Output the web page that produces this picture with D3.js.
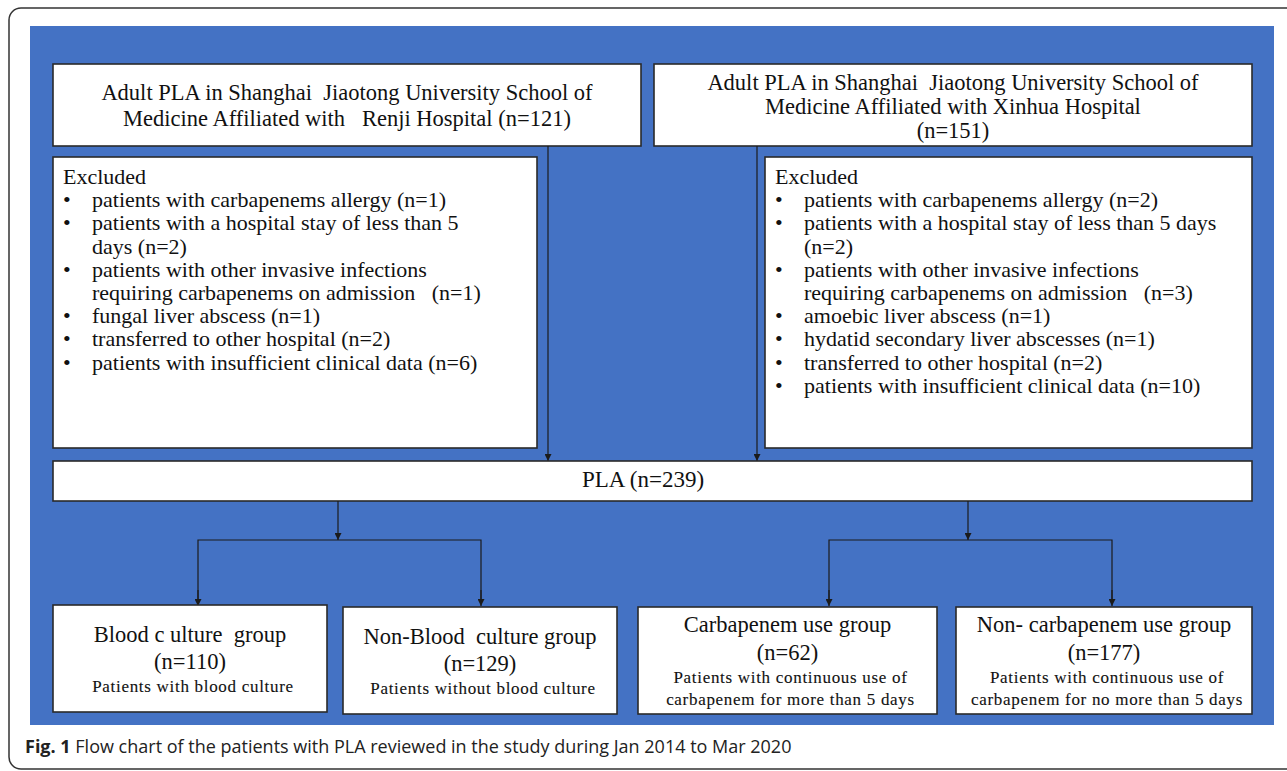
<!DOCTYPE html>
<html>
<head>
<meta charset="utf-8">
<script src="https://cdn.jsdelivr.net/npm/d3@7"></script>
<style>
  body { margin: 0; background: #ffffff; }
</style>
</head>
<body>
<div id="canvas"></div>
<script>
"use strict"

/* Flow chart data: box texts */
let sourceRenji = ["Adult PLA in Shanghai  Jiaotong University School of",
                   "Medicine Affiliated with   Renji Hospital (n=121)"];
let sourceXinhua = ["Adult PLA in Shanghai  Jiaotong University School of",
                    "Medicine Affiliated with Xinhua Hospital",
                    "(n=151)"];

let excludedTitle = "Excluded";
// "|" marks where an item wraps onto a second line
let excludedRenji = ["patients with carbapenems allergy (n=1)",
                     "patients with a hospital stay of less than 5|days (n=2)",
                     "patients with other invasive infections|requiring carbapenems on admission   (n=1)",
                     "fungal liver abscess (n=1)",
                     "transferred to other hospital (n=2)",
                     "patients with insufficient clinical data (n=6)"];
let excludedXinhua = ["patients with carbapenems allergy (n=2)",
                      "patients with a hospital stay of less than 5 days|(n=2)",
                      "patients with other invasive infections|requiring carbapenems on admission   (n=3)",
                      "amoebic liver abscess (n=1)",
                      "hydatid secondary liver abscesses (n=1)",
                      "transferred to other hospital (n=2)",
                      "patients with insufficient clinical data (n=10)"];

let totalLabel = "PLA (n=239)";

let groupTitles = ["Blood c ulture  group", "Non-Blood  culture group",
                   "Carbapenem use group", "Non- carbapenem use group"];
let groupCounts = ["(n=110)", "(n=129)", "(n=62)", "(n=177)"];
let groupNotes = [["Patients with blood culture"],
                  ["Patients without blood culture"],
                  ["Patients with continuous use of", "carbapenem for more than 5 days"],
                  ["Patients with continuous use of", "carbapenem for no more than 5 days"]];

let captionBold = "Fig. 1";
let captionText = " Flow chart of the patients with PLA reviewed in the study during Jan 2014 to Mar 2020";

/* Layout */
let svgWidth = 1287;
let svgHeight = 771;
let serif = "'Liberation Serif', 'Times New Roman', serif";
let blue = "#4472c4";
let ink = "#1b1b1b";

let svg = d3.select("#canvas")
    .append("svg")
    .attr("width", svgWidth)
    .attr("height", svgHeight);

// arrow head marker
svg.append("defs").append("marker")
    .attr("id", "arrow")
    .attr("viewBox", "0 0 10 10")
    .attr("refX", 10)
    .attr("refY", 5)
    .attr("markerWidth", 7)
    .attr("markerHeight", 7)
    .attr("markerUnits", "userSpaceOnUse")
    .attr("orient", "auto")
    .append("path")
    .attr("d", "M0,0 L10,5 L0,10 Z")
    .attr("fill", ink);

// outer frame (runs off the right edge)
svg.append("rect")
    .attr("x", 9).attr("y", 8)
    .attr("width", 1300).attr("height", 761)
    .attr("rx", 12)
    .attr("fill", "#ffffff")
    .attr("stroke", "#333")
    .attr("stroke-width", 1.5);

// blue panel
svg.append("rect")
    .attr("x", 30).attr("y", 26)
    .attr("width", 1244).attr("height", 699)
    .attr("fill", blue);

function box(x, y, w, h) {
    svg.append("rect")
        .attr("x", x).attr("y", y)
        .attr("width", w).attr("height", h)
        .attr("fill", "#ffffff")
        .attr("stroke", "#2a2a2a")
        .attr("stroke-width", 1.6);
}

function centeredLines(lines, cx, y0, step, size, spacing) {
    for (let i = 0; i < lines.length; i++) {
        let t = svg.append("text")
            .attr("x", cx)
            .attr("y", y0 + i * step)
            .attr("text-anchor", "middle")
            .style("font-family", serif)
            .style("font-size", size + "px")
            .style("white-space", "pre")
            .attr("fill", "#111")
            .text(lines[i]);
        if (spacing) {
            // the small notes are a little heavier and wider in the original
            t.style("letter-spacing", spacing + "px")
                .attr("stroke", "#111")
                .attr("stroke-width", 0.12);
        }
    }
}

function bulletList(items, x, y0, step, size) {
    svg.append("text")
        .attr("x", x + 10)
        .attr("y", y0)
        .style("font-family", serif)
        .style("font-size", size + "px")
        .attr("fill", "#111")
        .text(excludedTitle);
    let row = 1;
    for (let i = 0; i < items.length; i++) {
        let parts = items[i].split("|");
        svg.append("text")
            .attr("x", x + 10)
            .attr("y", y0 + row * step)
            .style("font-family", serif)
            .style("font-size", size + "px")
            .attr("fill", "#111")
            .text("\u2022");
        for (let j = 0; j < parts.length; j++) {
            svg.append("text")
                .attr("x", x + 39)
                .attr("y", y0 + row * step)
                .style("font-family", serif)
                .style("font-size", size + "px")
                .style("white-space", "pre")
                .attr("fill", "#111")
                .text(parts[j]);
            row++;
        }
    }
}

function line(points, arrow) {
    let p = svg.append("path")
        .attr("d", d3.line()(points))
        .attr("fill", "none")
        .attr("stroke", ink)
        .attr("stroke-width", 1.2);
    if (arrow) p.attr("marker-end", "url(#arrow)");
}

// top source boxes
box(53, 64, 588, 82);
centeredLines(sourceRenji, 347, 100, 26, 22.5);
box(654, 64, 598, 82);
centeredLines(sourceXinhua, 953, 90, 24, 22.5);

// excluded boxes
box(53, 157, 484, 291);
bulletList(excludedRenji, 53, 184, 23.2, 22);
box(765, 157, 487, 291);
bulletList(excludedXinhua, 765, 184, 23.2, 22);

// flow from sources to total
line([[548, 146], [548, 461]], true);
line([[757, 146], [757, 461]], true);

// total box
box(53, 461, 1199, 40);
centeredLines([totalLabel], 643, 487, 24, 23);

// branches
let branches = [
    { from: 338, left: 198, right: 481 },
    { from: 968, left: 829, right: 1112 }
];
for (let b of branches) {
    line([[b.from, 501], [b.from, 540]], true);
    line([[b.left, 604], [b.left, 540], [b.right, 540], [b.right, 604]], false);
    line([[b.left, 590], [b.left, 606]], true);
    line([[b.right, 590], [b.right, 606]], true);
}

// group boxes
let groupBoxes = [
    { x: 53, y: 605, w: 274, h: 107 },
    { x: 343, y: 607, w: 274, h: 107 },
    { x: 638, y: 607, w: 299, h: 107 },
    { x: 956, y: 607, w: 296, h: 107 }
];
for (let i = 0; i < groupBoxes.length; i++) {
    let g = groupBoxes[i];
    let cx = g.x + g.w / 2;
    box(g.x, g.y, g.w, g.h);
    if (groupNotes[i].length === 1) {
        centeredLines([groupTitles[i]], cx, g.y + 37, 24, 22.5);
        centeredLines([groupCounts[i]], cx, g.y + 64, 24, 22.5);
        centeredLines(groupNotes[i], cx + 3, g.y + 87, 22, 17, 0.7);
    } else {
        centeredLines([groupTitles[i]], cx, g.y + 25, 24, 22.5);
        centeredLines([groupCounts[i]], cx, g.y + 53, 24, 22.5);
        centeredLines(groupNotes[i], cx + 3, g.y + 76, 22, 17, 0.7);
    }
}

// caption
let cap = svg.append("text")
    .attr("x", 25)
    .attr("y", 753)
    .style("font-family", "'Open Sans', sans-serif")
    .style("font-size", "18px")
    .attr("fill", "#222");
cap.append("tspan").style("font-weight", "bold").text(captionBold);
cap.append("tspan").style("white-space", "pre").text(captionText);
</script>
</body>
</html>
